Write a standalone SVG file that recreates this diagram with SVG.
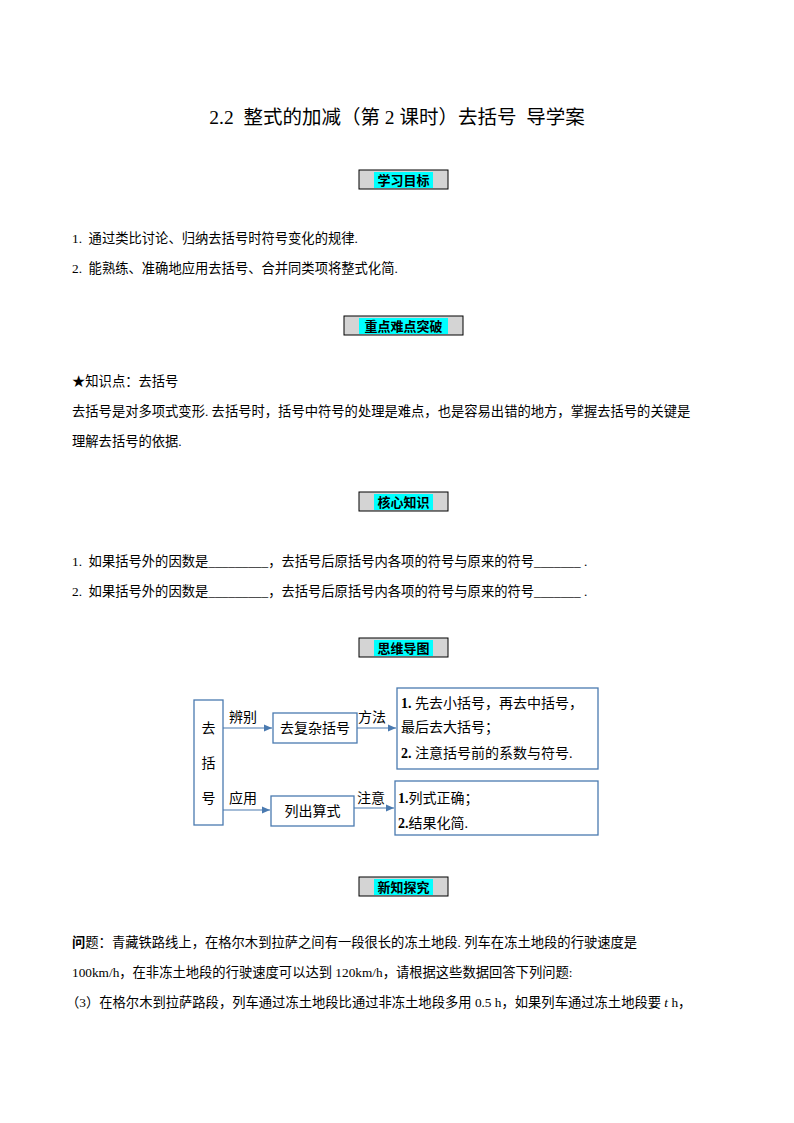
<svg xmlns="http://www.w3.org/2000/svg" width="794" height="1123" viewBox="0 0 794 1123">
<style>
text{font-family:"Liberation Serif","Noto Sans CJK SC",serif;font-size:13.3px;fill:#000}
.t{font-size:19.5px}
.h{font-family:"Noto Sans CJK SC",sans-serif;font-size:13px;font-weight:bold;text-anchor:middle}
.hb{fill:#d4d4d4;stroke:#000;stroke-width:1}
.hl{fill:#00ffff}
.n{fill:#fff;stroke:#4a7ab0;stroke-width:1.3}
.c{stroke:#4a7ab0;stroke-width:1.2;fill:none;marker-end:url(#a)}
.m{font-size:14px}
</style>
<defs><marker id="a" markerWidth="8" markerHeight="8" refX="7" refY="4" orient="auto"><path d="M0,1 L7,4 L0,7z" fill="#4a7ab0"/></marker></defs>
<rect width="794" height="1123" fill="#fff"/>
<text class="t" x="397" y="124" text-anchor="middle" xml:space="preserve">2.2  整式的加减（第 2 课时）去括号  导学案</text>
<g id="h1"><rect class="hb" x="359" y="170" width="89" height="19"/><rect class="hl" x="374" y="172" width="59" height="16"/><text class="h" x="403.5" y="185">学习目标</text></g>
<text x="72" y="243" xml:space="preserve">1.  通过类比讨论、归纳去括号时符号变化的规律.</text>
<text x="72" y="273" xml:space="preserve">2.  能熟练、准确地应用去括号、合并同类项将整式化简.</text>
<g id="h2"><rect class="hb" x="344" y="316" width="119" height="19"/><rect class="hl" x="359" y="318" width="89" height="16"/><text class="h" x="403.5" y="331">重点难点突破</text></g>
<text x="72" y="386">★知识点：去括号</text>
<text x="72" y="416">去括号是对多项式变形. 去括号时，括号中符号的处理是难点，也是容易出错的地方，掌握去括号的关键是</text>
<text x="72" y="446">理解去括号的依据.</text>
<g id="h3"><rect class="hb" x="359" y="492" width="89" height="19"/><rect class="hl" x="374" y="494" width="59" height="16"/><text class="h" x="403.5" y="507">核心知识</text></g>
<text x="72" y="566" xml:space="preserve">1.  如果括号外的因数是_________，去括号后原括号内各项的符号与原来的符号_______ .</text>
<text x="72" y="596" xml:space="preserve">2.  如果括号外的因数是_________，去括号后原括号内各项的符号与原来的符号_______ .</text>
<g id="h4"><rect class="hb" x="359" y="638" width="89" height="19"/><rect class="hl" x="374" y="640" width="59" height="16"/><text class="h" x="403.5" y="653">思维导图</text></g>
<g id="connectors">
<path class="c" d="M223,728 H272"/>
<path class="c" d="M357,728 H396"/>
<path class="c" d="M223,810 H270"/>
<path class="c" d="M354,808 H394"/>
</g>
<g id="n1"><rect class="n" x="194" y="700" width="29" height="125"/><text class="m" x="208.5" y="733" text-anchor="middle">去</text><text class="m" x="208.5" y="768" text-anchor="middle">括</text><text class="m" x="208.5" y="803" text-anchor="middle">号</text></g>
<text class="m" x="229" y="722">辨别</text>
<text class="m" x="229" y="803">应用</text>
<text class="m" x="358" y="722">方法</text>
<text class="m" x="357" y="803">注意</text>
<g id="n2"><rect class="n" x="273" y="713" width="84" height="30"/><text class="m" x="315" y="733" text-anchor="middle">去复杂括号</text></g>
<g id="n3"><rect class="n" x="271" y="796" width="83" height="30"/><text class="m" x="312.5" y="816" text-anchor="middle">列出算式</text></g>
<g id="n4"><rect class="n" x="397" y="688" width="201" height="81"/><text class="m" x="401" y="708"><tspan font-weight="bold">1.</tspan> 先去小括号，再去中括号，</text><text class="m" x="401" y="732">最后去大括号；</text><text class="m" x="401" y="758"><tspan font-weight="bold">2.</tspan> 注意括号前的系数与符号.</text></g>
<g id="n5"><rect class="n" x="395" y="781" width="203" height="54"/><text class="m" x="398" y="803"><tspan font-weight="bold">1.</tspan>列式正确；</text><text class="m" x="398" y="828"><tspan font-weight="bold">2.</tspan>结果化简.</text></g>
<g id="h5"><rect class="hb" x="359" y="877" width="89" height="19"/><rect class="hl" x="374" y="879" width="59" height="16"/><text class="h" x="403.5" y="892">新知探究</text></g>
<text x="72" y="947"><tspan font-weight="bold">问</tspan>题：青藏铁路线上，在格尔木到拉萨之间有一段很长的冻土地段. 列车在冻土地段的行驶速度是</text>
<text x="72" y="977">100km/h，在非冻土地段的行驶速度可以达到 120km/h，请根据这些数据回答下列问题:</text>
<text x="66" y="1007">（3）在格尔木到拉萨路段，列车通过冻土地段比通过非冻土地段多用 0.5 h，如果列车通过冻土地段要 <tspan font-style="italic">t</tspan> h，</text>
</svg>
